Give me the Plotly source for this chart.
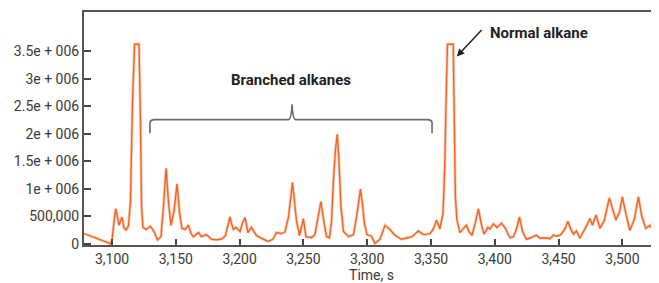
import plotly.graph_objects as go

# Retention time (s)
time_s = [3078.0, 3081.1, 3085.8, 3090.5, 3095.2, 3098.4, 3099.9, 3101.5, 3102.8, 3104.3,
          3105.4, 3107.8, 3109.3, 3110.9, 3112.9, 3114.4, 3116.0, 3117.6, 3121.1, 3122.3,
          3123.1, 3124.2, 3126.6, 3130.1, 3132.9, 3135.6, 3138.3, 3140.3, 3142.3, 3144.2,
          3146.2, 3148.5, 3150.9, 3152.8, 3154.8, 3157.2, 3159.9, 3161.9, 3163.8, 3167.7,
          3170.1, 3174.0, 3177.9, 3182.2, 3186.2, 3188.9, 3190.9, 3192.4, 3194.0, 3195.2,
          3197.1, 3200.3, 3202.2, 3204.2, 3206.5, 3209.3, 3213.2, 3217.5, 3222.2, 3226.1,
          3228.9, 3232.8, 3235.5, 3238.3, 3239.8, 3241.4, 3243.0, 3244.5, 3246.9, 3249.9,
          3252.0, 3256.3, 3259.0, 3261.4, 3263.7, 3265.7, 3268.1, 3270.4, 3272.0, 3273.5,
          3275.1, 3276.5, 3277.8, 3279.4, 3281.4, 3285.3, 3289.2, 3291.6, 3294.7, 3296.3,
          3297.8, 3299.8, 3303.3, 3306.1, 3310.0, 3313.9, 3317.8, 3321.7, 3326.8, 3331.9,
          3335.1, 3340.1, 3344.1, 3349.2, 3351.9, 3354.3, 3357.0, 3359.4, 3360.8, 3362.1,
          3362.9, 3367.4, 3368.4, 3369.1, 3370.3, 3372.7, 3375.4, 3377.8, 3379.7, 3382.1,
          3384.8, 3387.2, 3389.1, 3391.5, 3394.6, 3396.2, 3398.9, 3401.7, 3405.2, 3407.9,
          3411.9, 3414.6, 3417.0, 3419.3, 3421.7, 3424.8, 3428.3, 3432.6, 3435.4, 3439.3,
          3443.2, 3446.0, 3448.7, 3451.8, 3455.0, 3457.3, 3459.7, 3461.6, 3464.0, 3466.7,
          3470.6, 3472.6, 3474.6, 3476.5, 3479.3, 3482.4, 3485.9, 3489.8, 3491.8, 3494.9,
          3497.7, 3500.0, 3502.4, 3505.9, 3509.4, 3512.6, 3515.3, 3518.4, 3521.6, 3524.7,
          3528.2]

# Detector signal (counts)
signal = [186e3, 158e3, 130e3, 83e3, 36e3, 0, 55e3, 394e3, 638e3, 488e3,
          337e3, 488e3, 299e3, 243e3, 337e3, 770e3, 2559e3, 3630e3, 3630e3, 2183e3,
          676e3, 299e3, 262e3, 318e3, 224e3, 73e3, 130e3, 676e3, 1373e3, 770e3,
          337e3, 582e3, 1090e3, 582e3, 281e3, 262e3, 337e3, 186e3, 130e3, 205e3,
          130e3, 168e3, 83e3, 73e3, 92e3, 149e3, 337e3, 488e3, 337e3, 262e3,
          299e3, 224e3, 375e3, 478e3, 205e3, 299e3, 149e3, 92e3, 45e3, 83e3,
          205e3, 186e3, 215e3, 488e3, 864e3, 1119e3, 770e3, 431e3, 149e3, 459e3,
          130e3, 111e3, 168e3, 488e3, 770e3, 450e3, 130e3, 111e3, 394e3, 1147e3,
          1712e3, 1994e3, 1523e3, 676e3, 224e3, 130e3, 168e3, 488e3, 996e3, 714e3,
          375e3, 168e3, 139e3, 8e3, 83e3, 337e3, 262e3, 158e3, 83e3, 111e3,
          130e3, 234e3, 168e3, 186e3, 271e3, 431e3, 271e3, 563e3, 1429e3, 2936e3,
          3630e3, 3630e3, 2371e3, 864e3, 431e3, 205e3, 281e3, 337e3, 224e3, 149e3,
          394e3, 638e3, 394e3, 177e3, 299e3, 271e3, 365e3, 299e3, 375e3, 299e3,
          111e3, 130e3, 271e3, 488e3, 224e3, 83e3, 111e3, 158e3, 102e3, 111e3,
          92e3, 158e3, 139e3, 168e3, 271e3, 412e3, 262e3, 177e3, 234e3, 102e3,
          271e3, 375e3, 459e3, 337e3, 525e3, 281e3, 431e3, 836e3, 676e3, 431e3,
          582e3, 855e3, 582e3, 243e3, 450e3, 855e3, 488e3, 281e3, 337e3, 262e3,
          676e3]

x_ticks = [3100, 3150, 3200, 3250, 3300, 3350, 3400, 3450, 3500]
x_labels = ["3,100", "3,150", "3,200", "3,250", "3,300", "3,350", "3,400", "3,450", "3,500"]
y_ticks = [0, 500000, 1000000, 1500000, 2000000, 2500000, 3000000, 3500000]
y_labels = ["0", "500,000", "1e + 006", "1.5e + 006", "2e + 006", "2.5e + 006", "3e + 006", "3.5e + 006"]

FONT = "Roboto, sans-serif"
AX = "#555555"
TXT = "#3a3a3a"

fig = go.Figure()
fig.add_trace(go.Scatter(x=time_s, y=signal, mode="lines",
                         line=dict(color="#f7a07a", width=3.0), opacity=0.5,
                         hoverinfo="skip", showlegend=False))
fig.add_trace(go.Scatter(x=time_s, y=signal, mode="lines",
                         line=dict(color="#f26524", width=1.4), showlegend=False))

# Bracket over the branched alkanes
xl, xm, xr = 3129.7, 3241.1, 3350.8
yb, yh, yt = 2013e3, 2258e3, 2540e3
path = (f"M {xl},{yb} L {xl},{yh-60e3} Q {xl},{yh} {xl+4},{yh} "
        f"L {xm-3},{yh} Q {xm-0.5},{yh} {xm},{yt} Q {xm+0.5},{yh} {xm+3},{yh} "
        f"L {xr-4},{yh} Q {xr},{yh} {xr},{yh-60e3} L {xr},{yb}")
fig.add_shape(type="path", path=path, xref="x", yref="y",
              line=dict(color="#6a6a6a", width=1.6))

fig.add_annotation(x=3239.9, y=2974e3, text="<b>Branched alkanes</b>", showarrow=False,
                   font=dict(family=FONT, size=15, color="#222222"))
fig.add_annotation(x=3434.3, y=3840e3, text="<b>Normal alkane</b>", showarrow=False,
                   font=dict(family=FONT, size=15, color="#222222"))
fig.add_annotation(x=3370.2, y=3407e3, ax=3390.8, ay=3915e3, axref="x", ayref="y",
                   xref="x", yref="y", text="", showarrow=True, arrowhead=2,
                   arrowsize=1, arrowwidth=1.5, arrowcolor="#222222")

# page body has an 8px margin: figure is offset by 8px right and down
fig.update_layout(
    width=651, height=275,
    margin=dict(l=76, r=0, t=4, b=38),
    paper_bgcolor="white", plot_bgcolor="white",
    font=dict(family=FONT, size=14, color=TXT),
    xaxis=dict(range=[3078, 3528.7], tickvals=x_ticks, ticktext=x_labels,
               showgrid=False, zeroline=False, showline=True, linecolor=AX,
               linewidth=2, mirror=True, ticks="inside", ticklen=6, tickwidth=2,
               tickcolor="#444444", automargin=False,
               tickfont=dict(family=FONT, size=14, color=TXT),
               title=dict(text="Time, s", font=dict(family=FONT, size=14, color=TXT),
                          standoff=2)),
    yaxis=dict(range=[-21000, 4216000], tickvals=y_ticks, ticktext=y_labels,
               showgrid=False, zeroline=False, showline=True, linecolor=AX,
               linewidth=2, ticks="inside", ticklen=7, tickwidth=2,
               tickcolor="#444444", automargin=False,
               tickfont=dict(family=FONT, size=14, color=TXT)),
)

fig.write_html("out.html")
